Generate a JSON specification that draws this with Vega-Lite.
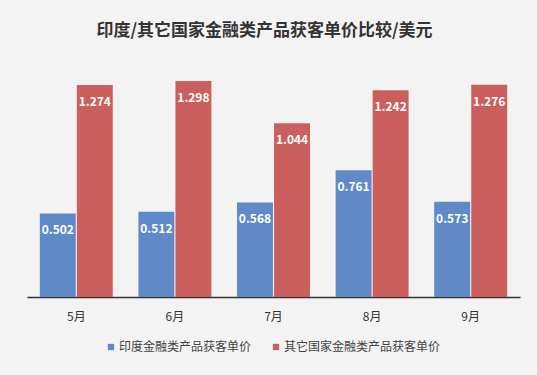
{
  "$schema": "https://vega.github.io/schema/vega-lite/v6.json",
  "width": 493,
  "height": 233,
  "autosize": {"type": "none"},
  "padding": {"left": 27, "top": 64, "right": 17, "bottom": 78},
  "background": "#f3f3f3",
  "title": {
    "text": "印度/其它国家金融类产品获客单价比较/美元",
    "fontSize": 17,
    "fontWeight": "bold",
    "color": "#333333",
    "font": "Noto Sans CJK SC",
    "anchor": "middle",
    "dx": -9,
    "offset": 24
  },
  "data": {
    "values": [
      {"month": "5月", "series": "印度金融类产品获客单价", "value": 0.502},
      {"month": "5月", "series": "其它国家金融类产品获客单价", "value": 1.274},
      {"month": "6月", "series": "印度金融类产品获客单价", "value": 0.512},
      {"month": "6月", "series": "其它国家金融类产品获客单价", "value": 1.298},
      {"month": "7月", "series": "印度金融类产品获客单价", "value": 0.568},
      {"month": "7月", "series": "其它国家金融类产品获客单价", "value": 1.044},
      {"month": "8月", "series": "印度金融类产品获客单价", "value": 0.761},
      {"month": "8月", "series": "其它国家金融类产品获客单价", "value": 1.242},
      {"month": "9月", "series": "印度金融类产品获客单价", "value": 0.573},
      {"month": "9月", "series": "其它国家金融类产品获客单价", "value": 1.276}
    ]
  },
  "encoding": {
    "x": {
      "field": "month",
      "type": "nominal",
      "sort": null,
      "scale": {"paddingInner": 0.26, "paddingOuter": 0.13},
      "axis": {
        "title": null,
        "labelAngle": 0,
        "ticks": false,
        "domainColor": "#333333",
        "domainWidth": 1.5,
        "labelPadding": 14,
        "labelFontSize": 12,
        "labelColor": "#333333",
        "labelFont": "Noto Sans CJK SC"
      }
    },
    "xOffset": {
      "field": "series",
      "type": "nominal",
      "sort": ["印度金融类产品获客单价", "其它国家金融类产品获客单价"],
      "scale": {"paddingInner": 0.03}
    },
    "y": {
      "field": "value",
      "type": "quantitative",
      "scale": {"domain": [0, 1.4]},
      "axis": null
    }
  },
  "layer": [
    {
      "mark": {"type": "bar"},
      "encoding": {
        "color": {
          "field": "series",
          "type": "nominal",
          "sort": ["印度金融类产品获客单价", "其它国家金融类产品获客单价"],
          "scale": {"range": ["#5f8ac7", "#cb5f5d"]},
          "legend": {
            "title": null,
            "orient": "none",
            "legendX": 78,
            "legendY": 277,
            "direction": "horizontal",
            "symbolType": "square",
            "symbolSize": 40,
            "symbolStrokeWidth": 0,
            "labelFontSize": 12,
            "labelColor": "#444444",
            "labelFont": "Noto Sans CJK SC",
            "columnPadding": 18,
            "labelOffset": 2
          }
        }
      }
    },
    {
      "mark": {
        "type": "text",
        "color": "white",
        "fontWeight": "bold",
        "fontSize": 12,
        "font": "Noto Sans CJK SC",
        "baseline": "middle",
        "dy": 17
      },
      "encoding": {
        "text": {"field": "value", "type": "quantitative", "format": ".3f"}
      }
    }
  ],
  "config": {"view": {"stroke": null}}
}
